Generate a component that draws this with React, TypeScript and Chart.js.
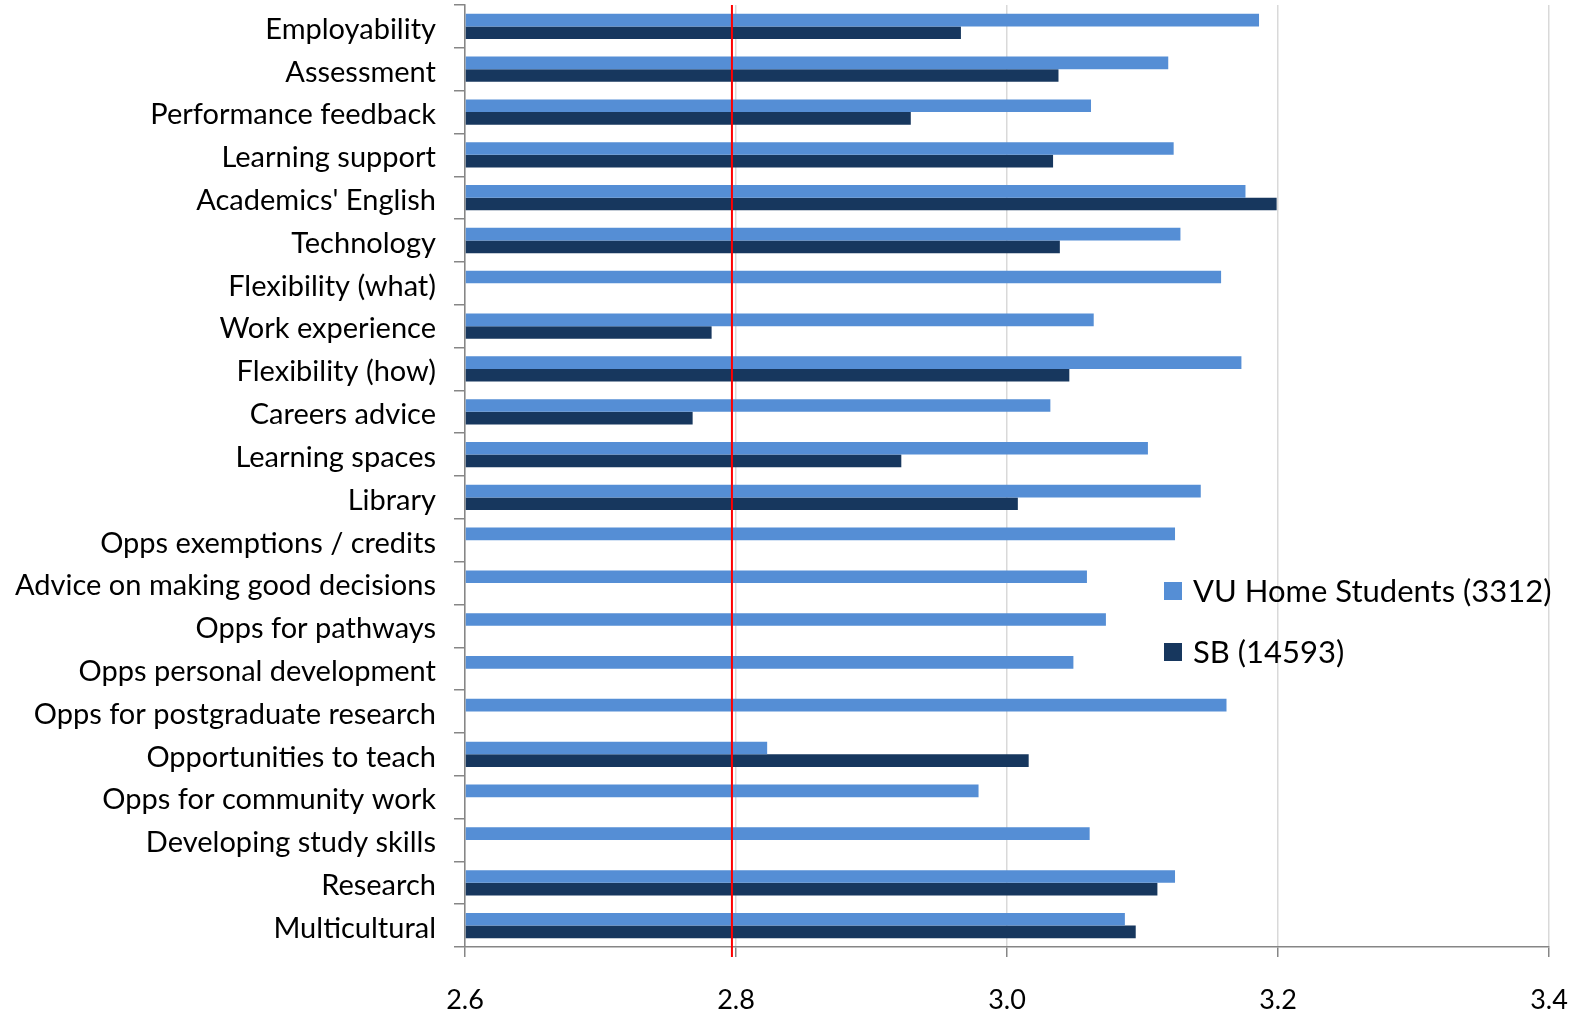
import React, { useEffect, useRef } from "react";
import { Chart, registerables } from "chart.js";

Chart.register(...registerables);

const categories = [
  "Employability",
  "Assessment",
  "Performance feedback",
  "Learning support",
  "Academics' English",
  "Technology",
  "Flexibility (what)",
  "Work experience",
  "Flexibility (how)",
  "Careers advice",
  "Learning spaces",
  "Library",
  "Opps exemptions / credits",
  "Advice on making good decisions",
  "Opps for pathways",
  "Opps personal development",
  "Opps for postgraduate research",
  "Opportunities to teach",
  "Opps for community work",
  "Developing study skills",
  "Research",
  "Multicultural",
];

const vuHome = [
  3.186, 3.119, 3.062, 3.123, 3.176, 3.128, 3.158, 3.064, 3.173, 3.032, 3.104,
  3.143, 3.124, 3.059, 3.073, 3.049, 3.162, 2.823, 2.979, 3.061, 3.124, 3.087,
];

const sb = [
  2.966, 3.038, 2.929, 3.034, 3.199, 3.039, null, 2.782, 3.046, 2.768, 2.922,
  3.008, null, null, null, null, null, 3.016, null, null, 3.111, 3.095,
];

const seriesLabels = ["VU Home Students (3312)", "SB (14593)"];
const seriesColors = ["#558ED5", "#17375E"];
const xTicks = [2.6, 2.8, 3.0, 3.2, 3.4];
const referenceValue = 2.797;

const FONT = "Lato, 'Open Sans', sans-serif";

export default function App() {
  const canvasRef = useRef<HTMLCanvasElement | null>(null);

  useEffect(() => {
    document.body.style.margin = "0";
    const canvas = canvasRef.current;
    if (!canvas) return;

    const refLinePlugin = {
      id: "refLine",
      afterDatasetsDraw(chart: any) {
        const { ctx, chartArea, scales } = chart;
        const x = scales.x.getPixelForValue(referenceValue);
        ctx.save();
        ctx.strokeStyle = "#FF0000";
        ctx.lineWidth = 2;
        ctx.beginPath();
        ctx.moveTo(x, chartArea.top);
        ctx.lineTo(x, chartArea.bottom + 10);
        ctx.stroke();
        ctx.restore();
      },
    };

    const legendPlugin = {
      id: "customLegend",
      afterDraw(chart: any) {
        const { ctx } = chart;
        const datasets = chart.data.datasets;
        const x0 = 1164;
        const ys = [591, 652];
        ctx.save();
        ctx.font = `31px ${FONT}`;
        ctx.textBaseline = "middle";
        ctx.textAlign = "left";
        datasets.forEach((ds: any, i: number) => {
          ctx.fillStyle = ds.backgroundColor;
          ctx.fillRect(x0, ys[i] - 9, 18, 18);
          ctx.fillStyle = "#000";
          ctx.fillText(ds.label, x0 + 29, ys[i] + 1);
        });
        ctx.restore();
      },
    };

    const chart = new Chart(canvas, {
      type: "bar",
      data: {
        labels: categories,
        datasets: [
          {
            label: seriesLabels[0],
            data: vuHome,
            backgroundColor: seriesColors[0],
            base: 2.6,
            categoryPercentage: 0.59,
            barPercentage: 1.0,
          } as any,
          {
            label: seriesLabels[1],
            data: sb,
            backgroundColor: seriesColors[1],
            base: 2.6,
            categoryPercentage: 0.59,
            barPercentage: 1.0,
          } as any,
        ],
      },
      options: {
        indexAxis: "y",
        responsive: false,
        animation: false,
        layout: { padding: { top: 5, right: 27, left: 0, bottom: 0 } },
        plugins: {
          legend: { display: false },
          tooltip: { enabled: false },
        },
        scales: {
          x: {
            min: 2.6,
            max: 3.4,
            afterBuildTicks(scale: any) {
              scale.ticks = xTicks.map((v) => ({ value: v }));
            },
            afterFit(scale: any) {
              scale.height = 77;
              scale.paddingLeft = 0;
              scale.paddingRight = 0;
            },
            grid: {
              color: "#D9D9D9",
              lineWidth: 1.5,
              drawTicks: true,
              tickLength: 10,
              tickColor: "#868686",
            },
            border: { color: "#868686", width: 1.5 },
            ticks: {
              font: { family: FONT, size: 27 },
              color: "#000",
              padding: 27,
              maxRotation: 0,
              callback: (v: any) => Number(v).toFixed(1),
            },
          },
          y: {
            afterFit(scale: any) {
              scale.width = 465;
              scale.paddingTop = 0;
              scale.paddingBottom = 0;
            },
            grid: {
              drawOnChartArea: false,
              drawTicks: true,
              tickLength: 11,
              tickColor: "#868686",
              lineWidth: 1.5,
              offset: true,
            },
            border: { color: "#868686", width: 1.5 },
            ticks: {
              font: { family: FONT, size: 29 },
              color: "#000",
              padding: 18,
              labelOffset: 3,
              autoSkip: false,
            },
          },
        },
      },
      plugins: [refLinePlugin, legendPlugin],
    });

    return () => chart.destroy();
  }, []);

  return (
    <div style={{ position: "relative", width: 1576, height: 1024 }}>
      <canvas ref={canvasRef} width={1576} height={1024} />
    </div>
  );
}
